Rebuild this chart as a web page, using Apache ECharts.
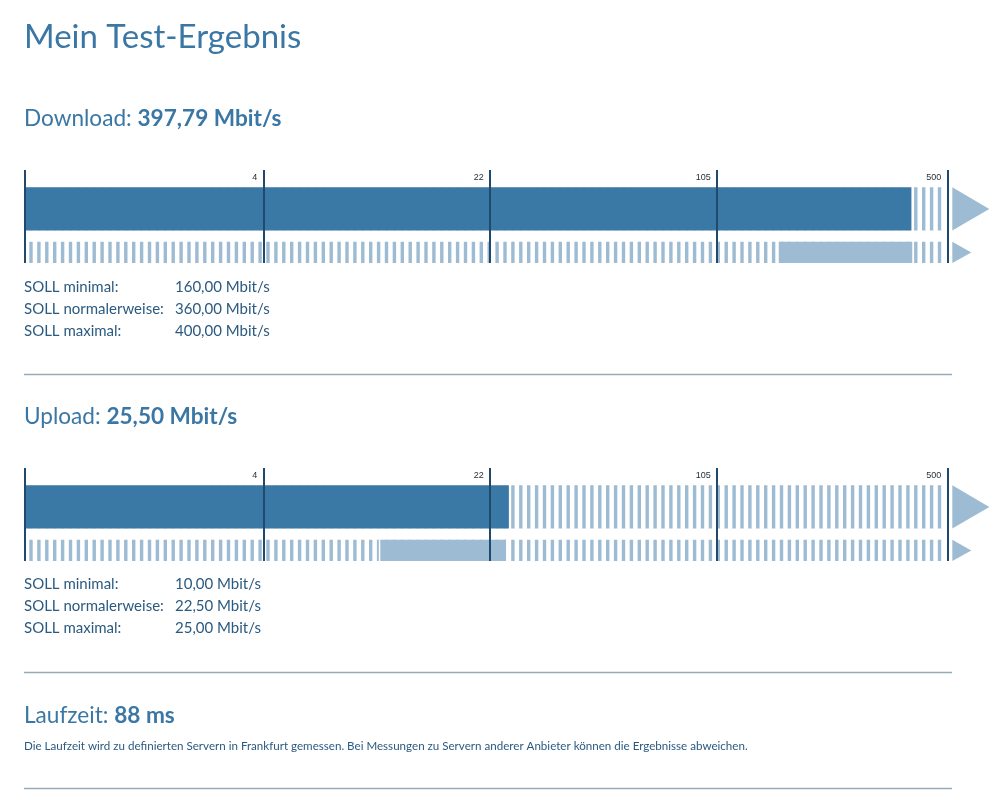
<!DOCTYPE html>
<html><head><meta charset="utf-8">
<script src="https://cdn.jsdelivr.net/npm/echarts@6/dist/echarts.min.js"></script>
<style>html,body{margin:0;padding:0;background:#fff}#c{width:999px;height:802px}</style>
</head><body><div id="c"></div>
<script>
// ---------- data ----------
const tickLabels = [4, 22, 105, 500];
const scaleMax = 500;
const downloadMeasured = 397.79;
const downloadSoll = [160, 360, 400];   // minimal, normalerweise, maximal
const uploadMeasured = 25.50;
const uploadSoll = [10, 22.5, 25];
const latencyMs = 88;
const sollLabels = ['SOLL minimal:', 'SOLL normalerweise:', 'SOLL maximal:'];
const unit = 'Mbit/s';

// ---------- style ----------
const DARK = '#3a78a5';
const LIGHT = '#9dbbd2';
const HEAD = '#3a77a4';
const TEXT = '#2b5a80';
const TICK = '#1f4a6d';
const FONT = 'Lato';

// scale used by the page: log10(v + 1)
const t = v => Math.log10(v + 1);
const fmt = v => v.toFixed(2).replace('.', ',');

// stripe pattern (global phase)
const pc = document.createElement('canvas');
pc.width = 79; pc.height = 4;
const pctx = pc.getContext('2d');
pctx.fillStyle = LIGHT;
for (let k = -1; k < 11; k++) {
  const s = 5.6 + k * 7.9;
  pctx.fillRect(s, 0, 3.4, 4);
}
const stripe = { image: pc, repeat: 'repeat' };

const ROW_BANDS = [[17.2, 60.6], [71.8, 93]];

function renderItem(params, api) {
  const a = api.value(0), b = api.value(1), row = api.value(2), kind = api.value(3);
  const band = ROW_BANDS[row];
  const p0 = api.coord([a, band[0]]), p1 = api.coord([b, band[1]]);
  const x0 = p0[0], x1 = p1[0], y0 = p0[1], y1 = p1[1], h = y1 - y0;
  if (kind === 0) {
    const tipW = row === 0 ? 37 : 19;
    return { type: 'group', children: [
      { type: 'rect', shape: { x: x0 + 4, y: y0, width: x1 - x0 - 8, height: h }, style: { fill: stripe } },
      { type: 'polygon', shape: { points: [[x1 + 5, y0], [x1 + 5 + tipW, (y0 + y1) / 2], [x1 + 5, y1]] }, style: { fill: LIGHT } }
    ]};
  }
  const color = kind === 1 ? DARK : LIGHT;
  return { type: 'group', children: [
    { type: 'rect', shape: { x: x0 - 1.5, y: y0, width: x1 - x0 + 1, height: h }, style: { fill: '#fff' } },
    { type: 'rect', shape: { x: x0, y: y0, width: x1 - x0 - 2, height: h }, style: { fill: color } }
  ]};
}

function rowsData(measured, soll) {
  return [
    [t(0), t(scaleMax), 0, 0],
    [t(0), t(measured), 0, 1],
    [t(0), t(scaleMax), 1, 0],
    [t(soll[0]), t(soll[2]), 1, 2]
  ];
}

const tickPos = [0].concat(tickLabels).map(t);
function xAxis(gi) {
  return {
    gridIndex: gi, type: 'value', position: 'top', min: 0, max: t(scaleMax), z: 10,
    axisLine: { show: false },
    axisTick: { show: false, customValues: tickPos },
    splitLine: { show: true, lineStyle: { color: TICK, width: 2 } },
    axisLabel: {
      inside: true, customValues: tickPos, margin: 3, align: 'right', verticalAlign: 'top',
      padding: [0, 6, 0, 0], color: '#1e2a35', fontSize: 9, fontFamily: 'Liberation Sans',
      formatter: v => {
        const i = tickPos.findIndex(p => Math.abs(p - v) < 1e-6);
        return i > 0 ? String(tickLabels[i - 1]) : '';
      }
    }
  };
}
function yAxis(gi) {
  return { gridIndex: gi, type: 'value', min: 0, max: 93, inverse: true, show: false };
}

function txt(x, y, text, size, color, weight) {
  return { type: 'text', x: x, y: y, style: { text: text, fontSize: size, fontFamily: FONT, fontWeight: weight || 'normal', fill: color, verticalAlign: 'middle' } };
}
function heading(x, y, label, value, size) {
  return { type: 'text', x: x, y: y, style: {
    text: '{n|' + label + ' }{b|' + value + '}', verticalAlign: 'middle',
    rich: { n: { fontSize: size, fontFamily: FONT, fill: HEAD }, b: { fontSize: size, fontFamily: FONT, fontWeight: 'bold', fill: HEAD } }
  }};
}
function sollBlock(y0, soll) {
  const out = [];
  soll.forEach((v, i) => {
    out.push(txt(24, y0 + i * 22, sollLabels[i], 15, TEXT));
    out.push(txt(175, y0 + i * 22, fmt(v) + ' ' + unit, 15, TEXT));
  });
  return out;
}
function sep(y) {
  return { type: 'line', shape: { x1: 24, y1: y, x2: 952, y2: y }, style: { stroke: '#98aab8', lineWidth: 1.5 } };
}

const chart = echarts.init(document.getElementById('c'));
chart.setOption({
  animation: false,
  grid: [
    { left: 24.3, top: 170, width: 923, height: 93 },
    { left: 24.3, top: 468, width: 923, height: 93 }
  ],
  xAxis: [xAxis(0), xAxis(1)],
  yAxis: [yAxis(0), yAxis(1)],
  series: [
    { type: 'custom', name: 'Download', xAxisIndex: 0, yAxisIndex: 0, renderItem: renderItem, data: rowsData(downloadMeasured, downloadSoll) },
    { type: 'custom', name: 'Upload', xAxisIndex: 1, yAxisIndex: 1, renderItem: renderItem, data: rowsData(uploadMeasured, uploadSoll) }
  ],
  graphic: [
    txt(24, 37, 'Mein Test-Ergebnis', 33, HEAD),
    heading(24, 119, 'Download:', fmt(downloadMeasured) + ' ' + unit, 22.6),
    ...sollBlock(287, downloadSoll),
    sep(374.5),
    heading(24, 417, 'Upload:', fmt(uploadMeasured) + ' ' + unit, 22.6),
    ...sollBlock(584, uploadSoll),
    sep(672.5),
    heading(24, 716, 'Laufzeit:', latencyMs + ' ms', 22.6),
    txt(24, 746, 'Die Laufzeit wird zu definierten Servern in Frankfurt gemessen. Bei Messungen zu Servern anderer Anbieter können die Ergebnisse abweichen.', 11.6, TEXT),
    sep(788.5)
  ]
});
</script>
</body></html>
